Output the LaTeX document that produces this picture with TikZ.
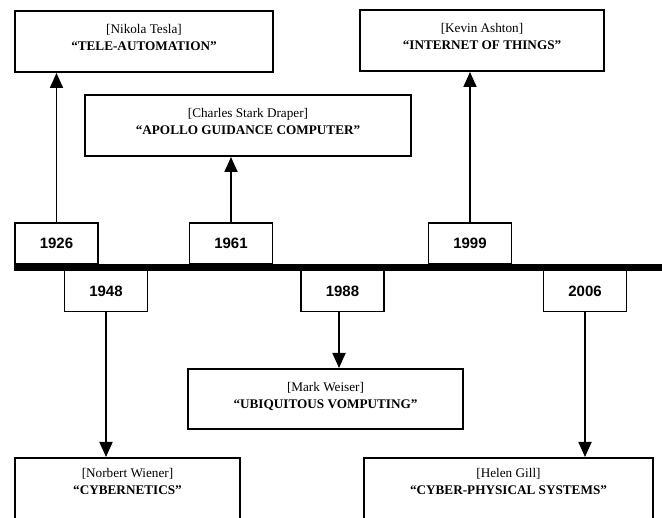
\documentclass[tikz,border=0pt]{standalone}
\usepackage{fontspec}
\setmainfont{Liberation Serif}
\newfontfamily\yearfont{Liberation Sans}
\usetikzlibrary{arrows.meta}

\begin{document}
\begin{tikzpicture}[x=1pt, y=-1pt,
  eventbox/.style={draw, line width=2pt, inner sep=0pt},
  caption/.style={anchor=north, yshift=#1, align=center, inner sep=0pt,
    font=\fontsize{13.2}{17}\selectfont},
  yearbox/.style={draw, fill=white, line width=1.5pt, inner sep=0pt,
    minimum width=83pt, minimum height=41pt,
    font=\yearfont\bfseries\fontsize{15}{18}\selectfont},
  link/.style={line width=1.8pt, -{Triangle[length=15pt, width=13pt]}}
]
\useasboundingbox (0,0) rectangle (662,518);
\clip (0,0) rectangle (662,518);

% inventors and their concepts
\node[eventbox, minimum width=258pt, minimum height=61pt,
  label={[caption=-14.5pt]north:{[Nikola Tesla]\\\textbf{“TELE-AUTOMATION”}}}]
  (tesla) at (144,41.5) {};
\node[eventbox, minimum width=326pt, minimum height=61pt,
  label={[caption=-14.5pt]north:{[Charles Stark Draper]\\\textbf{“APOLLO GUIDANCE COMPUTER”}}}]
  (draper) at (248,125.5) {};
\node[eventbox, minimum width=244pt, minimum height=61pt,
  label={[caption=-14.5pt]north:{[Kevin Ashton]\\\textbf{“INTERNET OF THINGS”}}}]
  (ashton) at (482,40.5) {};
\node[eventbox, minimum width=275pt, minimum height=60pt,
  label={[caption=-14.5pt]north:{[Mark Weiser]\\\textbf{“UBIQUITOUS VOMPUTING”}}}]
  (weiser) at (325.5,399) {};
\node[eventbox, minimum width=225pt, minimum height=80pt,
  label={[caption=-11pt]north:{[Norbert Wiener]\\\textbf{“CYBERNETICS”}}}]
  (wiener) at (127.5,498) {};
\node[eventbox, minimum width=289pt, minimum height=80pt,
  label={[caption=-11pt]north:{[Helen Gill]\\\textbf{“CYBER-PHYSICAL SYSTEMS”}}}]
  (gill) at (508.5,498) {};

% year markers above the axis
\node[yearbox] (y1926) at (56.5,243.5) {1926};
\node[yearbox] (y1961) at (231,243.5) {1961};
\node[yearbox] (y1999) at (470,243.5) {1999};
% year markers below the axis
\node[yearbox] (y1948) at (106,291) {1948};
\node[yearbox] (y1988) at (342.5,291) {1988};
\node[yearbox] (y2006) at (585,291) {2006};

% the time axis
\coordinate (axis-start) at (14,268);
\coordinate (axis-end) at (662,268);
\draw[line width=7pt] (axis-start) -- (axis-end);

% connectors from years to events
\draw[link] (y1926.north) -- (y1926.north |- tesla.south);
\draw[link] (y1961.north) -- (y1961.north |- draper.south);
\draw[link] (y1999.north) -- (y1999.north |- ashton.south);
\draw[link] (y1948.south) -- (y1948.south |- wiener.north);
\draw[link] ([xshift=-3.5pt]y1988.south) -- ([xshift=-3.5pt]y1988.south |- weiser.north);
\draw[link] (y2006.south) -- (y2006.south |- gill.north);
\end{tikzpicture}
\end{document}
